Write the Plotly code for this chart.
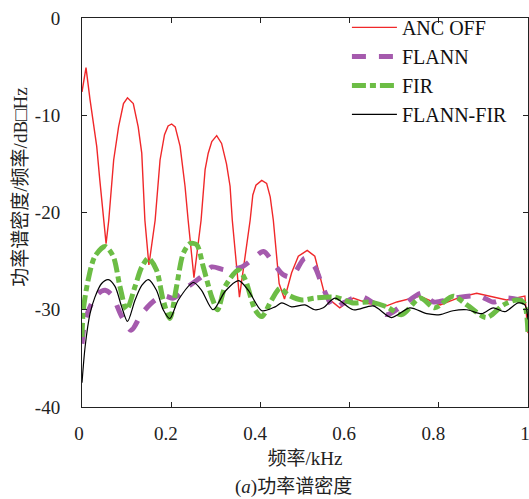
import plotly.graph_objects as go

# ANC OFF
anc_x = [0.000, 0.009, 0.018, 0.025, 0.033, 0.040, 0.048, 0.054, 0.060, 0.071, 0.082, 0.093, 0.102,
         0.115, 0.126, 0.134, 0.141, 0.150, 0.164, 0.175, 0.185, 0.193, 0.201, 0.209, 0.220, 0.231,
         0.238, 0.251, 0.267, 0.276, 0.283, 0.291, 0.302, 0.313, 0.324, 0.332, 0.337, 0.353, 0.377,
         0.383, 0.390, 0.403, 0.414, 0.422, 0.429, 0.442, 0.454, 0.470, 0.485, 0.505, 0.522, 0.537,
         0.545, 0.578, 0.608, 0.645, 0.683, 0.706, 0.758, 0.803, 0.848, 0.885, 0.915, 0.952, 0.993, 1.000]
anc_y = [-7.6, -5.1, -8.4, -10.5, -13.2, -16.7, -20.8, -23.2, -20.8, -14.6, -11.2, -8.8, -8.2,
         -8.8, -11.2, -13.9, -20.8, -25.4, -20.8, -14.6, -12.0, -11.1, -10.9, -11.2, -13.2, -17.3,
         -20.8, -26.7, -20.8, -15.6, -13.9, -12.7, -12.1, -12.9, -15.0, -17.3, -20.8, -28.7, -20.8,
         -18.2, -17.2, -16.7, -17.0, -18.4, -20.8, -27.3, -28.9, -26.2, -24.5, -23.9, -24.5, -27.3,
         -28.6, -29.8, -28.8, -29.4, -29.6, -29.2, -28.6, -29.5, -28.7, -28.3, -28.6, -29.0, -28.6, -32.4]

# FLANN
flann_x = [0.000, 0.007, 0.022, 0.037, 0.052, 0.067, 0.089, 0.110, 0.134, 0.164, 0.186, 0.205, 0.238,
           0.268, 0.291, 0.321, 0.358, 0.380, 0.407, 0.429, 0.451, 0.470, 0.500, 0.522, 0.541, 0.567,
           0.586, 0.623, 0.653, 0.683, 0.720, 0.762, 0.788, 0.818, 0.848, 0.892, 0.922, 0.952, 0.982, 1.000]
flann_y = [-33.5, -31.1, -29.3, -28.3, -28.0, -28.5, -30.7, -32.1, -30.4, -29.0, -28.6, -28.8, -27.6,
           -26.6, -25.6, -25.9, -25.6, -24.9, -24.0, -25.2, -26.4, -26.6, -24.7, -25.6, -27.8, -29.9,
           -29.3, -28.6, -29.3, -30.5, -29.5, -28.3, -29.2, -29.0, -28.7, -28.6, -29.2, -28.8, -29.0, -29.3]

# FIR
fir_x = [0.000, 0.003, 0.014, 0.029, 0.052, 0.070, 0.085, 0.100, 0.119, 0.134, 0.149, 0.167, 0.182,
         0.197, 0.212, 0.227, 0.242, 0.257, 0.272, 0.291, 0.304, 0.321, 0.351, 0.366, 0.388, 0.403,
         0.425, 0.444, 0.463, 0.493, 0.522, 0.567, 0.608, 0.646, 0.683, 0.717, 0.758, 0.791, 0.832,
         0.863, 0.907, 0.945, 0.975, 0.991, 1.000]
fir_y = [-32.8, -30.0, -26.9, -24.5, -23.5, -24.5, -27.6, -30.0, -27.6, -25.6, -24.7, -25.9, -29.0,
         -30.9, -27.6, -24.2, -23.2, -23.3, -25.6, -28.7, -30.0, -27.6, -25.9, -26.9, -30.0, -30.7,
         -29.0, -27.8, -28.5, -29.0, -28.8, -28.7, -29.3, -29.2, -29.7, -30.5, -28.8, -29.8, -28.6,
         -29.5, -30.8, -29.5, -29.0, -29.3, -32.4]

# FLANN-FIR
ff_x = [0.000, 0.007, 0.018, 0.029, 0.044, 0.059, 0.074, 0.089, 0.102, 0.119, 0.134, 0.149, 0.167,
        0.182, 0.197, 0.216, 0.250, 0.268, 0.294, 0.321, 0.351, 0.373, 0.403, 0.433, 0.448, 0.470,
        0.500, 0.522, 0.541, 0.567, 0.608, 0.653, 0.694, 0.735, 0.773, 0.803, 0.832, 0.863, 0.896,
        0.922, 0.948, 0.978, 0.993, 1.000]
ff_y = [-37.5, -33.8, -30.4, -28.7, -27.3, -26.9, -27.6, -29.7, -31.2, -29.0, -27.5, -26.9, -28.0,
        -30.0, -30.9, -29.0, -27.2, -28.0, -30.0, -28.1, -27.0, -28.0, -30.1, -29.7, -29.3, -29.7,
        -29.5, -30.0, -29.8, -28.8, -30.0, -29.6, -30.8, -29.8, -30.4, -30.5, -30.1, -30.0, -30.4,
        -29.8, -30.2, -29.3, -29.5, -31.0]

x_ticks = [0, 0.2, 0.4, 0.6, 0.8, 1]
x_tick_text = ["0", "0.2\u2005", "0.4\u2005", "0.6\u2005", "0.8\u2005", "1"]
y_ticks = [0, -10, -20, -30, -40]
y_tick_text = ["0", "-10", "-20", "-30", "-40"]

SERIF = "Liberation Serif, Times New Roman, Noto Sans CJK SC, serif"

fig = go.Figure()
fig.add_trace(go.Scatter(x=anc_x, y=anc_y, mode="lines", name="ANC OFF",
                         line=dict(color="#f0282a", width=1.4)))
fig.add_trace(go.Scatter(x=flann_x, y=flann_y, mode="lines", name="FLANN",
                         line=dict(color="#a55aad", width=5, dash="14px,13px", shape="spline", smoothing=0.8)))
fig.add_trace(go.Scatter(x=fir_x, y=fir_y, mode="lines", name="FIR",
                         line=dict(color="#6cbd45", width=5, dash="14px,4px,6px,4px", shape="spline", smoothing=0.8)))
fig.add_trace(go.Scatter(x=ff_x, y=ff_y, mode="lines", name="FLANN-FIR",
                         line=dict(color="#000000", width=1.2, shape="spline", smoothing=0.8)))

axis_common = dict(showgrid=False, zeroline=False, showline=True, linecolor="#222", linewidth=1,
                   mirror="ticks", ticks="inside", ticklen=5, tickcolor="#222", automargin=False,
                   tickfont=dict(family=SERIF, size=19, color="#222"))

fig.update_xaxes(range=[0, 1], tickvals=x_ticks, ticktext=x_tick_text, ticklabelstandoff=9,
                 ticklabelshift=-3, ticklabeloverflow="allow",
                 title=dict(text="频率/kHz", font=dict(family=SERIF, size=19, color="#222"), standoff=8),
                 **axis_common)
fig.update_yaxes(range=[-40, 0], tickvals=y_ticks, ticktext=y_tick_text, ticklabelstandoff=17,
                 **axis_common)

fig.add_annotation(text="功率谱密度/频率/dB□Hz", xref="paper", yref="paper", x=-0.138, y=0.565,
                   xanchor="center", yanchor="middle", textangle=-90, showarrow=False,
                   font=dict(family=SERIF, size=19, color="#222"))
fig.add_annotation(text="(<i>a</i>)功率谱密度", xref="paper", yref="paper", x=0.475, y=-0.206,
                   xanchor="center", yanchor="middle", showarrow=False,
                   font=dict(family=SERIF, size=19, color="#222"))

fig.update_layout(
    width=529, height=499,
    margin=dict(l=82, r=1, t=18, b=92),
    plot_bgcolor="white", paper_bgcolor="white",
    legend=dict(x=0.594, y=1.026, xanchor="left", yanchor="top", bgcolor="rgba(0,0,0,0)",
                font=dict(family=SERIF, size=20, color="#111"), itemwidth=45),
)

fig.write_html("out.html")
